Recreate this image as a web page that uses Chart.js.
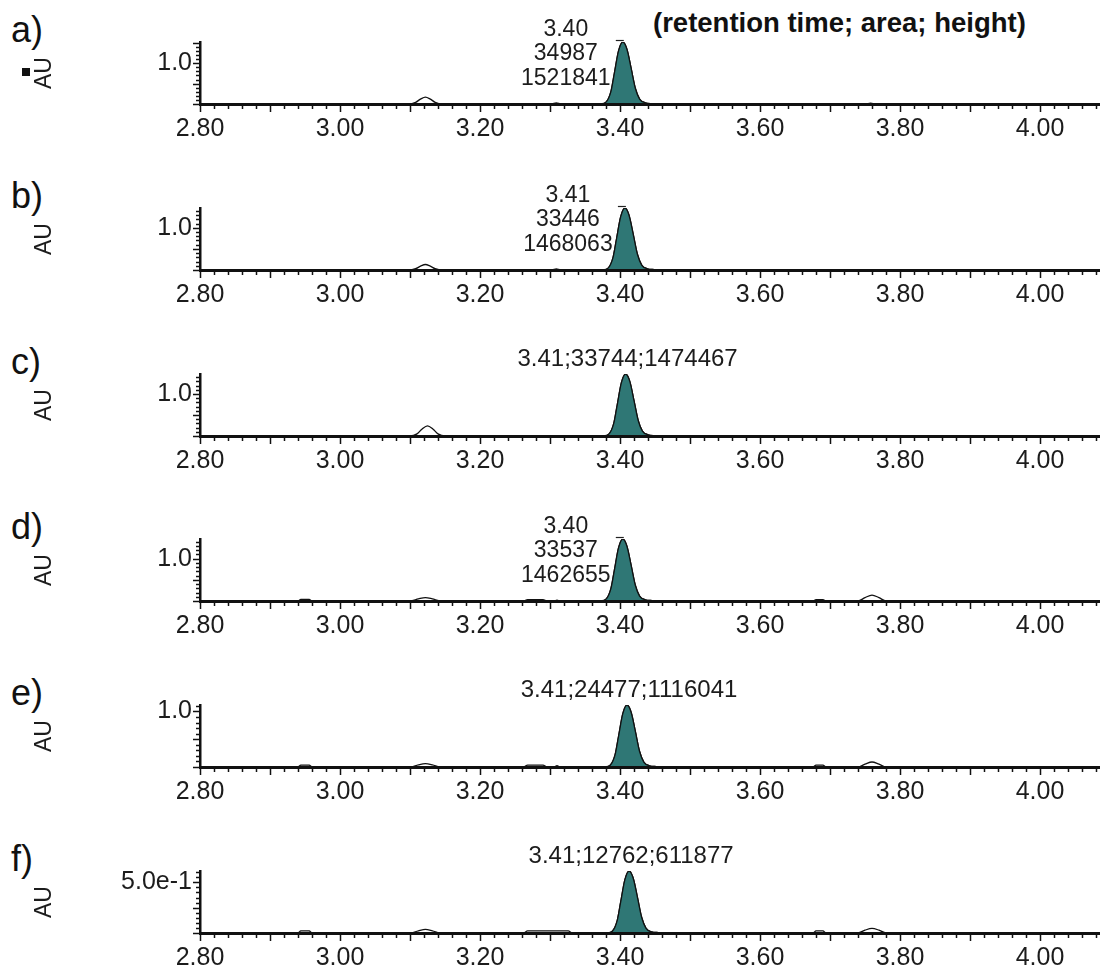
<!DOCTYPE html>
<html>
<head>
<meta charset="utf-8">
<script src="https://cdn.jsdelivr.net/npm/chart.js@4.4.1/dist/chart.umd.min.js"></script>
<style>
  body { margin: 0; background: #fff; font-family: "Liberation Sans", Arial, sans-serif; }
  #wrap { position: relative; width: 1106px; height: 970px; overflow: hidden; }
  #wrap canvas { position: absolute; left: 0; }
  .tag { position: absolute; left: 11px; font-size: 36px; line-height: 36px; color: #111; }
  #note { position: absolute; left: 653px; top: 9px; font-size: 27.5px; line-height: 27px; font-weight: bold; color: #111; white-space: nowrap; }
  #mark { position: absolute; left: 22px; top: 68px; width: 8px; height: 8px; background: #111; }
</style>
</head>
<body>
<div id="wrap">
  <div id="note">(retention time; area; height)</div>
  <div id="mark"></div>
</div>
<script>
const panelTags = ['a)', 'b)', 'c)', 'd)', 'e)', 'f)'];
const retTimes = ['3.40', '3.41', '3.41', '3.40', '3.41', '3.41'];
const areas = ['34987', '33446', '33744', '33537', '24477', '12762'];
const heights = ['1521841', '1468063', '1474467', '1462655', '1116041', '611877'];
const stackedLabel = [true, true, false, true, false, false];
const yLabelValue = [1.0, 1.0, 1.0, 1.0, 1.0, 0.5];
const yLabelText = ['1.0', '1.0', '1.0', '1.0', '1.0', '5.0e-1'];
const yMinorStep = [0.1, 0.1, 0.1, 0.1, 0.1, 0.05];
const xTickLabels = ['2.80', '3.00', '3.20', '3.40', '3.60', '3.80', '4.00'];
const xRange = [2.80, 4.085];
const mainPeakRange = [3.36, 3.47];

// traces as [minutes, AU]
const traceA = [
  [2.80, 0], [3.098, 0], [3.108, 0.04], [3.115, 0.12], [3.122, 0.17], [3.129, 0.12], [3.136, 0.04], [3.146, 0],
  [3.302, 0], [3.309, 0.03], [3.316, 0],
  [3.372, 0], [3.380, 0.046], [3.387, 0.304], [3.392, 0.761], [3.398, 1.309], [3.404, 1.521841], [3.410, 1.339],
  [3.416, 0.867], [3.422, 0.380], [3.428, 0.122], [3.436, 0.030], [3.446, 0.009], [3.456, 0],
  [3.751, 0], [3.758, 0.02], [3.765, 0], [4.085, 0]
];
const traceB = [
  [2.80, 0], [3.098, 0], [3.108, 0.03], [3.115, 0.09], [3.122, 0.13], [3.129, 0.09], [3.136, 0.03], [3.146, 0],
  [3.303, 0], [3.309, 0.025], [3.315, 0],
  [3.375, 0], [3.383, 0.044], [3.390, 0.294], [3.395, 0.734], [3.401, 1.262], [3.407, 1.468063], [3.413, 1.292],
  [3.419, 0.837], [3.425, 0.367], [3.431, 0.117], [3.439, 0.029], [3.449, 0.009], [3.459, 0],
  [4.085, 0]
];
const traceC = [
  [2.80, 0], [3.100, 0], [3.110, 0.05], [3.117, 0.16], [3.125, 0.24], [3.133, 0.16], [3.140, 0.05], [3.150, 0],
  [3.376, 0], [3.384, 0.044], [3.391, 0.295], [3.396, 0.737], [3.402, 1.268], [3.408, 1.474467], [3.414, 1.298],
  [3.420, 0.840], [3.426, 0.369], [3.432, 0.118], [3.440, 0.029], [3.450, 0.009], [3.460, 0],
  [4.085, 0]
];
const traceD = [
  [2.80, 0], [2.940, 0], [2.944, 0.035], [2.956, 0.035], [2.960, 0],
  [3.100, 0], [3.112, 0.05], [3.122, 0.08], [3.132, 0.05], [3.144, 0],
  [3.262, 0], [3.268, 0.03], [3.290, 0.03], [3.296, 0], [3.306, 0], [3.310, 0.02], [3.314, 0],
  [3.372, 0], [3.380, 0.044], [3.387, 0.293], [3.392, 0.731], [3.398, 1.258], [3.404, 1.462655], [3.410, 1.287],
  [3.416, 0.834], [3.422, 0.366], [3.428, 0.117], [3.436, 0.029], [3.446, 0.009], [3.456, 0],
  [3.676, 0], [3.680, 0.03], [3.690, 0.03], [3.694, 0],
  [3.740, 0], [3.750, 0.08], [3.760, 0.14], [3.770, 0.08], [3.780, 0], [4.085, 0]
];
const traceE = [
  [2.80, 0], [2.940, 0], [2.944, 0.035], [2.956, 0.035], [2.960, 0],
  [3.100, 0], [3.112, 0.04], [3.122, 0.06], [3.132, 0.04], [3.144, 0],
  [3.262, 0], [3.268, 0.035], [3.290, 0.035], [3.296, 0], [3.306, 0], [3.310, 0.025], [3.314, 0],
  [3.378, 0], [3.386, 0.033], [3.393, 0.223], [3.398, 0.558], [3.404, 0.960], [3.410, 1.116041], [3.416, 0.982],
  [3.422, 0.636], [3.428, 0.279], [3.434, 0.089], [3.442, 0.022], [3.452, 0.007], [3.462, 0],
  [3.676, 0], [3.680, 0.035], [3.690, 0.035], [3.694, 0],
  [3.740, 0], [3.750, 0.05], [3.760, 0.09], [3.770, 0.05], [3.780, 0], [4.085, 0]
];
const traceF = [
  [2.80, 0], [2.940, 0], [2.944, 0.02], [2.956, 0.02], [2.960, 0],
  [3.100, 0], [3.112, 0.022], [3.122, 0.035], [3.132, 0.022], [3.144, 0],
  [3.262, 0], [3.268, 0.02], [3.326, 0.02], [3.332, 0],
  [3.381, 0], [3.389, 0.018], [3.396, 0.122], [3.401, 0.306], [3.407, 0.526], [3.413, 0.611877], [3.419, 0.538],
  [3.425, 0.349], [3.431, 0.153], [3.437, 0.049], [3.445, 0.012], [3.455, 0.004], [3.465, 0],
  [3.676, 0], [3.680, 0.02], [3.690, 0.02], [3.694, 0],
  [3.740, 0], [3.750, 0.028], [3.760, 0.045], [3.770, 0.028], [3.780, 0], [4.085, 0]
];
const traces = [traceA, traceB, traceC, traceD, traceE, traceF];

const PANEL_H = 166;
const PANEL_STEP = 165.8;
const FONT = '"Liberation Sans", Arial, sans-serif';
const INK = '#1c1c1c';
const PEAK_FILL = '#2f7775';

// minor/major tick marks, drawn off the scales' own tick lists
const tickMarks = {
  id: 'tickMarks',
  afterDraw(chart) {
    const { ctx, chartArea: { left, bottom }, scales: { x, y } } = chart;
    ctx.save();
    ctx.strokeStyle = '#111';
    ctx.lineWidth = 1.5;
    ctx.beginPath();
    x.ticks.forEach(t => {
      const px = Math.round(x.getPixelForValue(t.value)) + 0.5;
      const major = Math.round(t.value * 100) % 10 === 0;
      ctx.moveTo(px, bottom);
      ctx.lineTo(px, bottom + (major ? 8 : 5));
    });
    const step = chart.options.scales.y.ticks.stepSize;
    y.ticks.forEach(t => {
      const py = Math.round(y.getPixelForValue(t.value)) + 0.5;
      const major = Math.abs(t.value / (step * 5) - Math.round(t.value / (step * 5))) < 1e-6;
      ctx.moveTo(left, py);
      ctx.lineTo(left - (major ? 7 : 4), py);
    });
    ctx.stroke();
    ctx.restore();
  }
};

// retention time / area / height above the main peak
const peakLabel = {
  id: 'peakLabel',
  afterDatasetsDraw(chart, args, opts) {
    const i = opts.panel;
    const { ctx, chartArea, scales: { x, y } } = chart;
    const apex = traces[i].reduce((m, p) => (p[1] > m[1] ? p : m));
    const px = x.getPixelForValue(apex[0]);
    const py = y.getPixelForValue(apex[1]);
    const base = y.getPixelForValue(0);
    ctx.save();
    ctx.fillStyle = INK;
    ctx.textAlign = 'center';
    ctx.textBaseline = 'middle';
    ctx.font = '23px ' + FONT;
    if (stackedLabel[i]) {
      [retTimes[i], areas[i], heights[i]].forEach((s, k) => {
        ctx.fillText(s, px - 57, base - 74.5 + k * 24.5);
      });
      ctx.strokeStyle = '#222';
      ctx.lineWidth = 1.2;
      ctx.beginPath();
      ctx.moveTo(px - 7, Math.round(py) - 1.5);
      ctx.lineTo(px + 1, Math.round(py) - 1.5);
      ctx.stroke();
    } else {
      ctx.font = '24px ' + FONT;
      ctx.fillText([retTimes[i], areas[i], heights[i]].join(';'), px + 2, chartArea.top - 15);
    }
    ctx.restore();
  }
};

const wrap = document.getElementById('wrap');

traces.forEach((trace, i) => {
  const top = Math.round(i * PANEL_STEP);

  const tag = document.createElement('div');
  tag.className = 'tag';
  tag.style.top = (top + 11.5) + 'px';
  tag.textContent = panelTags[i];
  wrap.appendChild(tag);

  const canvas = document.createElement('canvas');
  canvas.width = 1106;
  canvas.height = PANEL_H;
  canvas.style.top = top + 'px';
  wrap.appendChild(canvas);

  const points = trace.map(p => ({ x: p[0], y: p[1] }));
  const peakPoints = points.filter(p => p.x >= mainPeakRange[0] && p.x <= mainPeakRange[1]);

  new Chart(canvas.getContext('2d'), {
    type: 'line',
    data: {
      datasets: [
        { data: peakPoints, fill: 'origin', backgroundColor: PEAK_FILL, borderColor: '#111', borderWidth: 1.3 },
        { data: points, fill: false, borderColor: '#111', borderWidth: 1.3 }
      ]
    },
    options: {
      responsive: false,
      animation: false,
      events: [],
      layout: { padding: { top: 42, left: 0, right: 0, bottom: 0 } },
      elements: {
        point: { radius: 0 },
        line: { cubicInterpolationMode: 'monotone' }
      },
      plugins: {
        legend: { display: false },
        tooltip: { enabled: false },
        peakLabel: { panel: i }
      },
      scales: {
        x: {
          type: 'linear',
          min: xRange[0],
          max: xRange[1],
          bounds: 'data',
          grid: { display: false, drawTicks: false },
          border: { display: true, color: '#111', width: 3, z: 1 },
          ticks: {
            stepSize: 0.02,
            maxTicksLimit: 100,
            includeBounds: false,
            autoSkip: false,
            maxRotation: 0,
            minRotation: 0,
            padding: 10,
            color: INK,
            font: { family: FONT, size: 25 },
            callback: v => {
              const s = Number(v).toFixed(2);
              return xTickLabels.includes(s) ? s : '';
            }
          },
          afterFit: s => { s.height = PANEL_H - 104; }
        },
        y: {
          type: 'linear',
          min: 0,
          max: Number(heights[i]) / 1e6,
          bounds: 'data',
          grid: { display: false, drawTicks: false },
          border: { display: true, color: '#111', width: 2.5, z: 1 },
          title: {
            display: true,
            text: 'AU',
            color: INK,
            font: { family: FONT, size: 23 },
            padding: { top: 31, bottom: 0 }
          },
          ticks: {
            stepSize: yMinorStep[i],
            maxTicksLimit: 100,
            includeBounds: false,
            autoSkip: false,
            padding: 8,
            color: INK,
            font: { family: FONT, size: 25 },
            callback: v => (Math.abs(v - yLabelValue[i]) < 1e-6 ? yLabelText[i] : '')
          },
          afterFit: s => { s.width = 200; }
        }
      }
    },
    plugins: [tickMarks, peakLabel]
  });
});
</script>
</body>
</html>
